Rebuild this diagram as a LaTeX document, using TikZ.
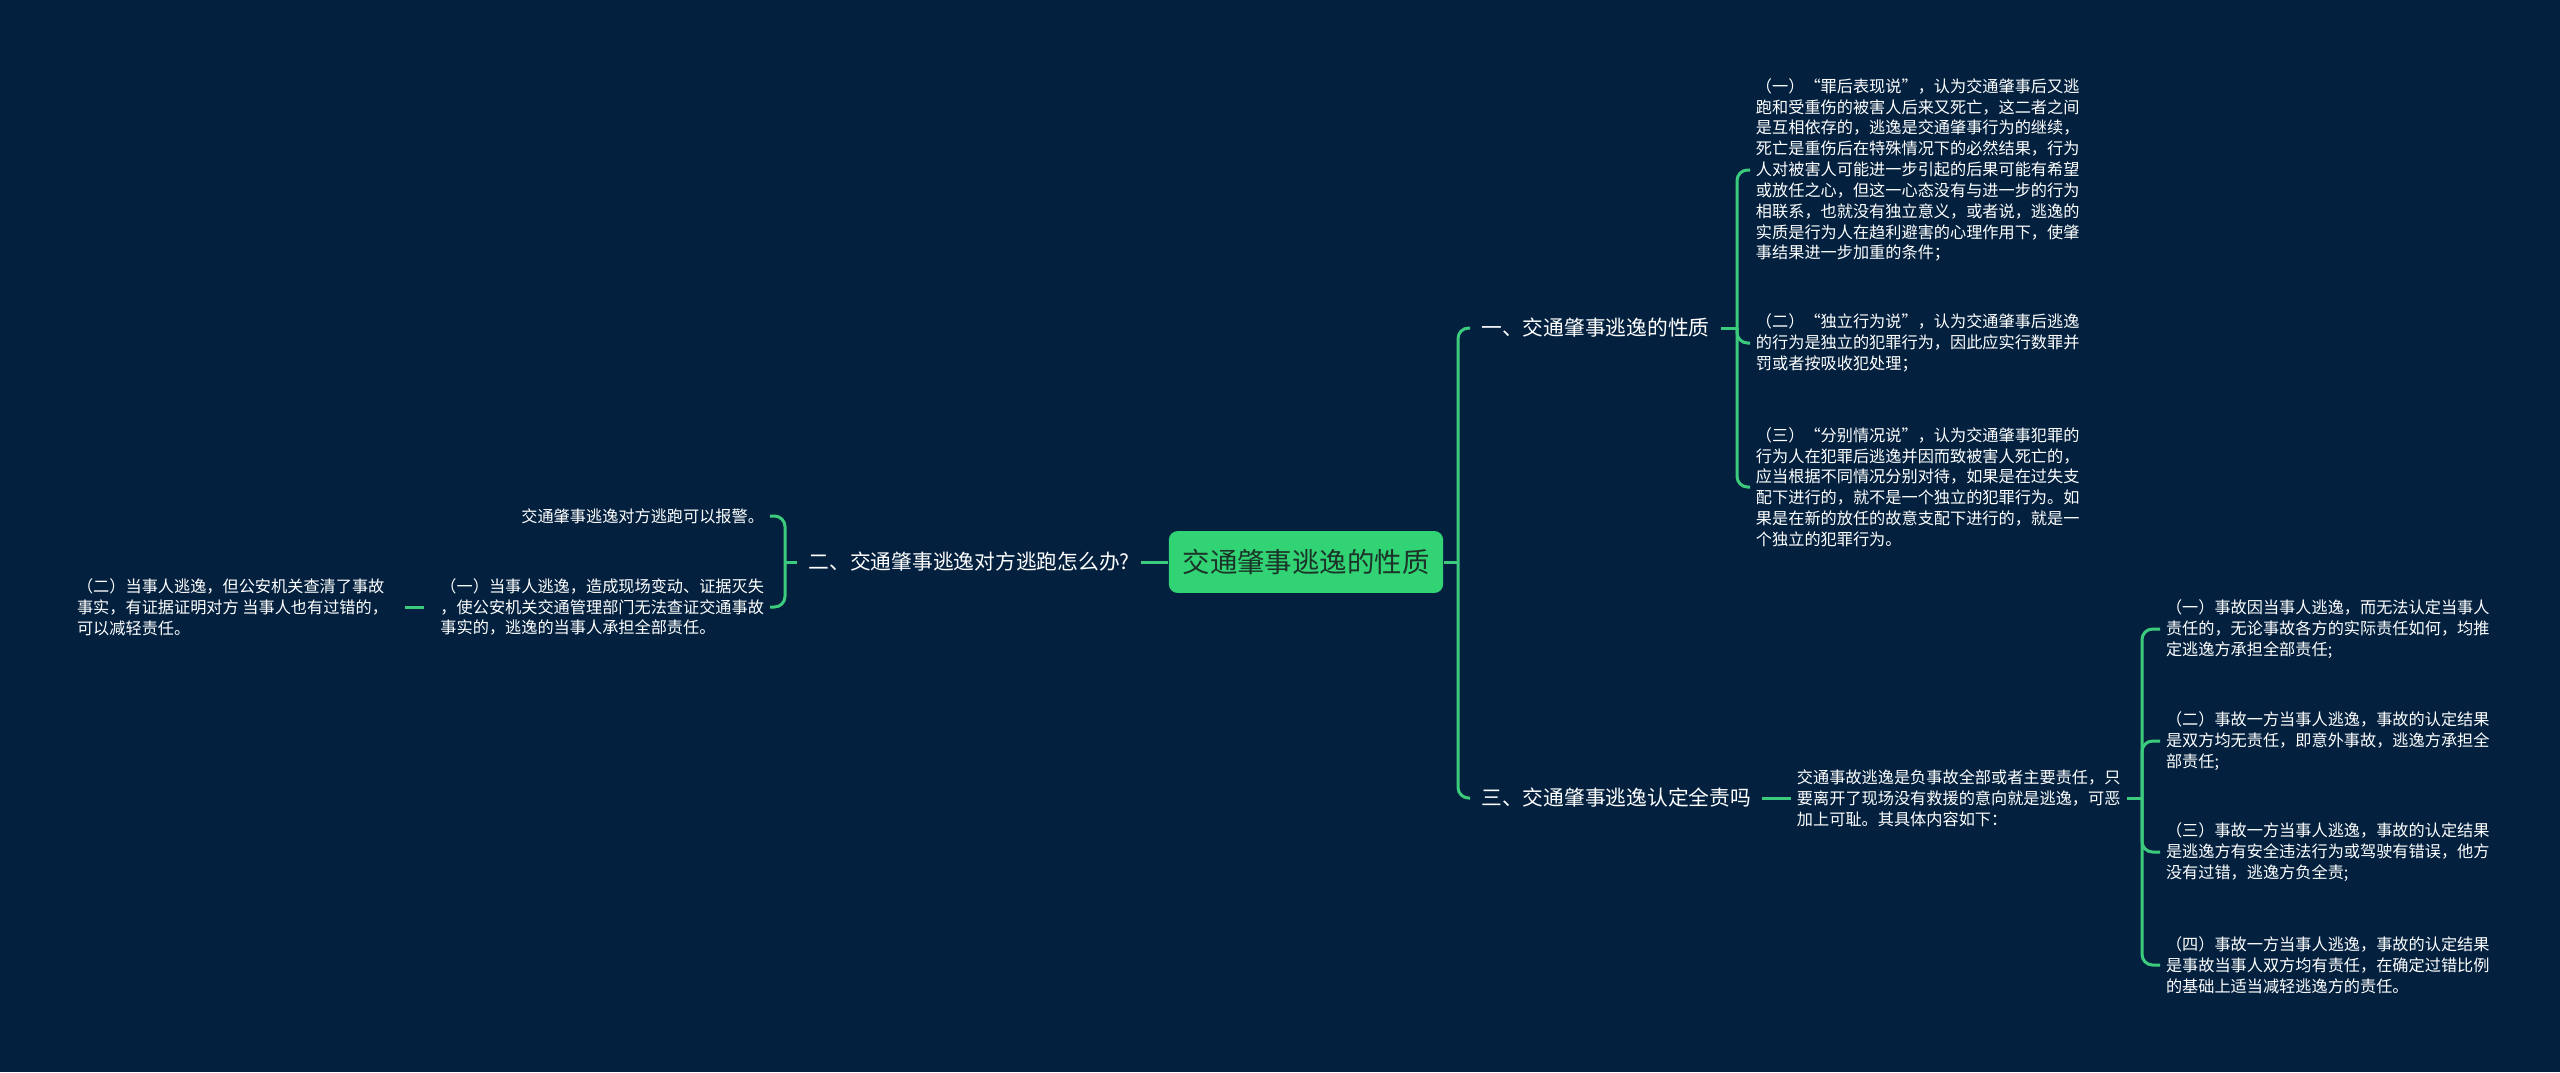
\documentclass[tikz,border=0pt]{standalone}
\usepackage{fontspec}
\setmainfont{Noto Sans CJK SC}
\usetikzlibrary{positioning}
\definecolor{bgnavy}{HTML}{03213F}
\definecolor{mapgreen}{HTML}{3CCB7C}
\definecolor{rootgreen}{HTML}{31D374}
\definecolor{roottext}{HTML}{1B3328}
\tikzset{
  link/.style={draw=mapgreen,line width=0.85pt,rounded corners=3pt},
  rootbox/.style={fill=rootgreen,rounded corners=2.5pt,text=roottext,
                  font=\fontsize{7.8pt}{9pt}\selectfont,
                  minimum width=78pt,minimum height=17.6pt,inner sep=0pt},
  branch/.style={text=white,font=\fontsize{5.9pt}{7pt}\selectfont,
                 inner xsep=3pt,inner ysep=1pt},
  leaf/.style={text=white,font=\fontsize{4.6pt}{5.92pt}\selectfont,
               align=left,inner xsep=1.5pt,inner ysep=1pt},
}
\begin{document}
\begin{tikzpicture}[x=0.01cm,y=-0.01cm]
  \fill[bgnavy](0,0)rectangle(2560,1072);
  \useasboundingbox(0,0)rectangle(2560,1072);

  % centre
  \node[rootbox](root)at(1306,562){交通肇事逃逸的性质};

  % right side, first branch
  \node[branch,anchor=west](nature)at(1470,328){一、交通肇事逃逸的性质};
  \node[leaf,anchor=west](view1)at(1750,170){（一）“罪后表现说”，认为交通肇事后又逃\\
    跑和受重伤的被害人后来又死亡，这二者之间\\
    是互相依存的，逃逸是交通肇事行为的继续，\\
    死亡是重伤后在特殊情况下的必然结果，行为\\
    人对被害人可能进一步引起的后果可能有希望\\
    或放任之心，但这一心态没有与进一步的行为\\
    相联系，也就没有独立意义，或者说，逃逸的\\
    实质是行为人在趋利避害的心理作用下，使肇\\
    事结果进一步加重的条件；};
  \node[leaf,anchor=west](view2)at(1750,343){（二）“独立行为说”，认为交通肇事后逃逸\\
    的行为是独立的犯罪行为，因此应实行数罪并\\
    罚或者按吸收犯处理；};
  \node[leaf,anchor=west](view3)at(1750,487){（三）“分别情况说”，认为交通肇事犯罪的\\
    行为人在犯罪后逃逸并因而致被害人死亡的，\\
    应当根据不同情况分别对待，如果是在过失支\\
    配下进行的，就不是一个独立的犯罪行为。如\\
    果是在新的放任的故意支配下进行的，就是一\\
    个独立的犯罪行为。};

  % right side, third branch
  \node[branch,anchor=west](blame)at(1470,798){三、交通肇事逃逸认定全责吗};
  \node[leaf,anchor=west](summary)at(1791,798){交通事故逃逸是负事故全部或者主要责任，只\\
    要离开了现场没有救援的意向就是逃逸，可恶\\
    加上可耻。其具体内容如下：};
  \node[leaf,anchor=west](case1)at(2160,629){（一）事故因当事人逃逸，而无法认定当事人\\
    责任的，无论事故各方的实际责任如何，均推\\
    定逃逸方承担全部责任;};
  \node[leaf,anchor=west](case2)at(2160,741){（二）事故一方当事人逃逸，事故的认定结果\\
    是双方均无责任，即意外事故，逃逸方承担全\\
    部责任;};
  \node[leaf,anchor=west](case3)at(2160,852){（三）事故一方当事人逃逸，事故的认定结果\\
    是逃逸方有安全违法行为或驾驶有错误，他方\\
    没有过错，逃逸方负全责;};
  \node[leaf,anchor=west](case4)at(2160,965){（四）事故一方当事人逃逸，事故的认定结果\\
    是事故当事人双方均有责任，在确定过错比例\\
    的基础上适当减轻逃逸方的责任。};

  % left side
  \node[branch,anchor=east](howto)at(1141,562){二、交通肇事逃逸对方逃跑怎么办?};
  \node[leaf,anchor=east](police)at(770,516){交通肇事逃逸对方逃跑可以报警。};
  \node[leaf,anchor=east](first)at(770,607){（一）当事人逃逸，造成现场变动、证据灭失\\
    ，使公安机关交通管理部门无法查证交通事故\\
    事实的，逃逸的当事人承担全部责任。};
  \node[leaf,anchor=east](second)at(394,607){（二）当事人逃逸，但公安机关查清了事故\\
    事实，有证据证明对方 当事人也有过错的，\\
    可以减轻责任。};

  % junctions
  \coordinate(jr)at(1458,562);
  \coordinate(jl)at(785,562);
  \coordinate(jn)at(1737,328);
  \coordinate(js)at(2142,798);

  % connectors
  \draw[link](root.east)--(jr);
  \draw[link](jr)|-(nature.west);
  \draw[link](jr)|-(blame.west);
  \draw[link](nature.east)--(jn);
  \foreach \v in {view1,view2,view3}
    \draw[link](jn)|-(\v.west);
  \draw[link](blame.east)--(summary.west);
  \draw[link](summary.east)--(js);
  \foreach \c in {case1,case2,case3,case4}
    \draw[link](js)|-(\c.west);
  \draw[link](root.west)--(howto.east);
  \draw[link](howto.west)--(jl);
  \draw[link](jl)|-(police.east);
  \draw[link](jl)|-(first.east);
  \draw[link,shorten <=3pt,shorten >=3pt](first.west)--(second.east);
\end{tikzpicture}
\end{document}
